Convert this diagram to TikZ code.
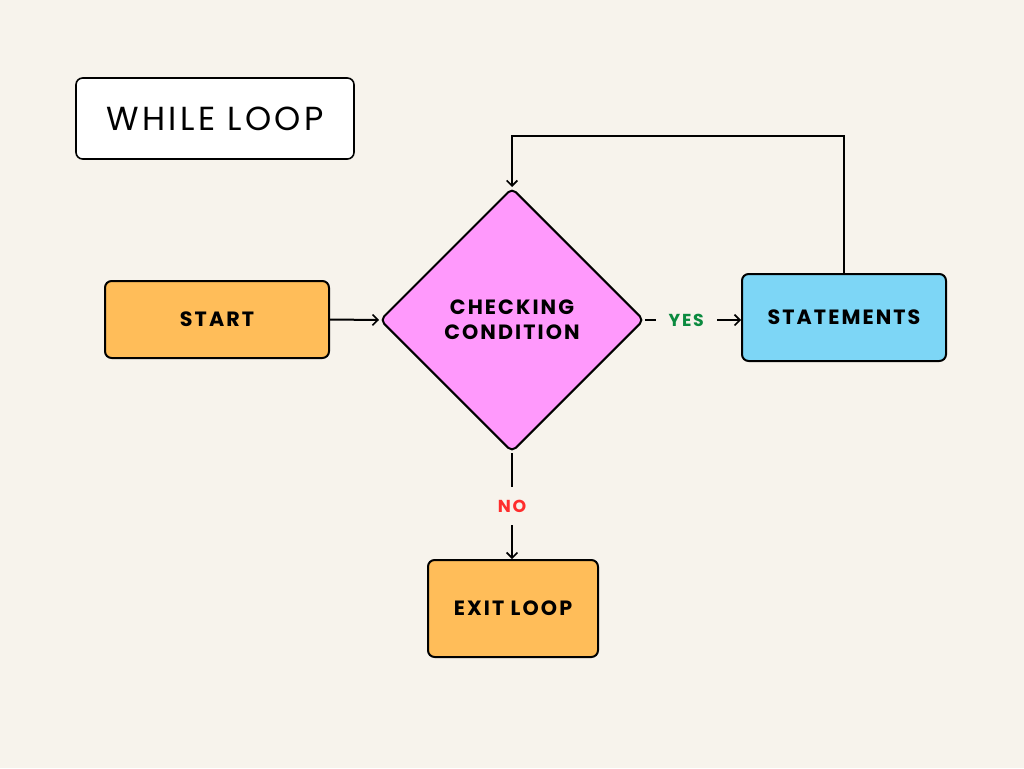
\documentclass[tikz,border=0pt]{standalone}
\usepackage{fontspec}
\setmainfont{Poppins}
\newfontfamily\lblfont[LetterSpace=10]{Poppins}
\newfontfamily\ttlfont[LetterSpace=10]{Poppins}
\usetikzlibrary{shapes.geometric,arrows.meta}
\definecolor{bg}{HTML}{F7F3EC}
\definecolor{orangebox}{HTML}{FFBD59}
\definecolor{pinkbox}{HTML}{FF99FC}
\definecolor{bluebox}{HTML}{7DD6F6}
\definecolor{yesgreen}{HTML}{0B8A3F}
\definecolor{nored}{HTML}{FF2D2D}
\tikzset{
  px/.style={x=0.75pt,y=-0.75pt},
  box/.style={draw=black,line width=1.5pt,rounded corners=5pt,inner sep=0pt,align=center,font=\lblfont\bfseries\fontsize{15.5}{18.75}\selectfont},
  decision/.style={diamond,aspect=1,draw=black,line width=1.5pt,rounded corners=4pt,fill=pinkbox,inner sep=0pt,align=center,font=\lblfont\bfseries\fontsize{15.5}{18.75}\selectfont},
  link/.style={line width=1.5pt,-{Straight Barb[length=4pt,width=8pt,line width=1.2pt]}},
  branch/.style={fill=bg,inner sep=0pt,font=\lblfont\bfseries\fontsize{13}{15}\selectfont},
}
\begin{document}
\begin{tikzpicture}[px]
\fill[bg] (0,0) rectangle (1024,768);
\useasboundingbox (0,0) rectangle (1024,768);
\node[draw=black,line width=1.2pt,rounded corners=5pt,fill=white,minimum width=208.5pt,minimum height=60.75pt,font=\ttlfont\fontsize{25}{30}\selectfont] (title) at (215,118.5) {WHILE LOOP};
\node[box,fill=orangebox,minimum width=168pt,minimum height=57.75pt] (start) at (217,319.5) {START};
\node[decision,minimum width=198pt,minimum height=198pt] (cond) at (512,320) {CHECKING\\CONDITION};
\node[box,fill=bluebox,minimum width=153pt,minimum height=65.25pt] (stat) at (844,317.5) {STATEMENTS};
\node[box,fill=orangebox,minimum width=127.5pt,minimum height=72.75pt] (exit) at (513,608.5) {EXIT LOOP};
\coordinate (top) at (512,136);
\draw[link] (start.east) -- (cond.west);
\draw[link] (cond.east) -- node[branch,pos=0.43,text=yesgreen,minimum width=46pt,minimum height=14pt] (yes) {YES} (cond.east -| stat.west);
\draw[link] (cond.south) -- node[branch,pos=0.5,text=nored,minimum height=28pt] (no) {NO} (cond.south |- exit.north);
\draw[link] (stat.north) |- (top) -- (cond.north);
\end{tikzpicture}
\end{document}
